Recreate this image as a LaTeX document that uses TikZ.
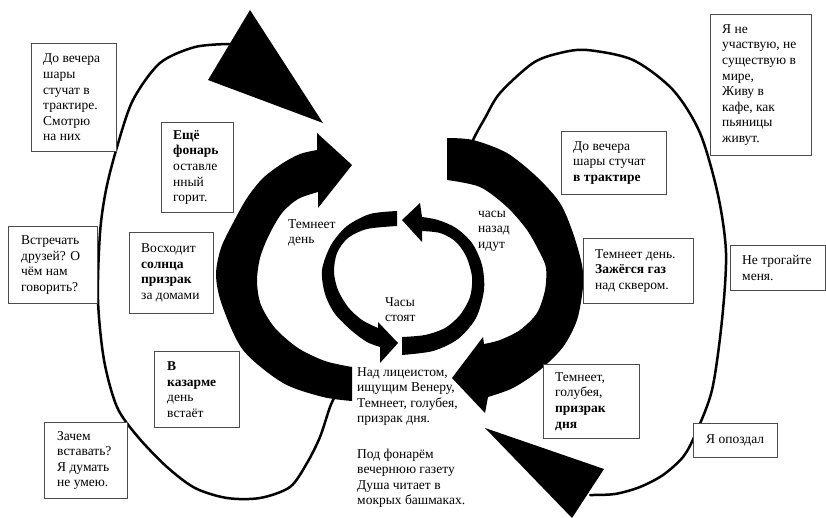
\documentclass[tikz,border=0pt]{standalone}
\usepackage{fontspec}
\setmainfont{Liberation Serif}
\begin{document}
\begin{tikzpicture}[x=1pt,y=-1pt,
  box/.style={draw=black!70, line width=0.9pt, fill=white, inner sep=0pt, anchor=north west},
  txt/.style={align=left, inner sep=0pt, anchor=west, font=\fontsize{13.5}{15.6}\selectfont},
  thincurve/.style={line width=2.5pt, line cap=round},
  band/.style={fill=black}]
\useasboundingbox (0,0) rectangle (826,518);

% thin open ellipses
\draw[thincurve] plot[smooth] coordinates {(337,392) (330,407) (320,437) (307,463) (290,487) (260,498) (227,498) (195,488) (167,467) (138,437) (117,407) (104,360) (98,300) (100,233) (106,190) (117,147) (133,100) (160,63) (195,47) (229,44)};
\draw[thincurve] plot[smooth] coordinates {(466,158) (474,138) (485,118) (500,93) (533,63) (560,53) (587,50) (633,60) (673,90) (700,133) (718,195) (726,253) (722,320) (712,390) (695,435) (683,457) (663,475) (640,487) (615,494) (590,495)};

% big triangular heads
\fill (208,80) -- (250,10) -- (323,123) -- cycle;
\fill (485,428) -- (604,469) -- (572,518) -- cycle;

% free texts
\node[txt] (t7) at (288,233) {Темнеет\\день};
\node[txt] (t8) at (478,231) {часы\\назад\\идут};
\node[txt] (t9) at (385,309.5) {Часы\\стоят};
\node[txt] (t16) at (357,437.5) {Над лицеистом,\\ищущим Венеру,\\Темнеет, голубея,\\призрак дня.\\[19.6pt]Под фонарём\\вечернюю газету\\Душа читает в\\мокрых башмаках.};

% big left band
\fill[band] plot[smooth] coordinates {(352,401) (323,397) (283,383) (243,350) (222,305) (216,275) (221,248) (233,223) (247,198) (263,178) (283,163) (300,154) (317,150)}
  -- (317,133) -- (352,165) -- (318,208) -- (318,192)
  -- plot[smooth] coordinates {(318,192) (298,199) (282,213) (269,235) (260,258) (257,282) (261,305) (275,328) (298,348) (325,361) (352,367)} -- cycle;

% big right band
\fill[band] plot[smooth] coordinates {(447,138) (473,140) (507,153) (537,177) (560,203) (573,233) (582,265) (583,287) (577,320) (563,347) (540,370) (513,388) (488,397)}
  -- (485,413) -- (452,378) -- (483,337) -- (484,344)
  -- plot[smooth] coordinates {(484,344) (500,340) (520,330) (537,313) (545,290) (546,268) (540,253) (527,230) (507,207) (480,187) (447,180)} -- cycle;

% small left band
\fill[band] plot[smooth] coordinates {(397,211) (370,214) (347,226) (331,245) (322,270) (325,294) (335,314) (352,331) (367,342) (380,347)}
  -- (380,363) -- (398,343) -- (378,322) -- (378,328)
  -- plot[smooth] coordinates {(378,328) (362,320) (348,307) (338,290) (334,272) (337,253) (348,238) (367,229) (397,226)} -- cycle;

% small right band
\fill[band] plot[smooth] coordinates {(402,355) (433,351) (458,339) (476,318) (484,290) (482,265) (472,243) (456,228) (438,220) (422,217)}
  -- (420,203) -- (402,220) -- (422,242) -- (422,231)
  -- plot[smooth] coordinates {(422,231) (440,233) (455,241) (466,256) (472,277) (470,297) (460,315) (445,328) (425,335) (402,337)} -- cycle;

% boxes
\node[box, minimum width=85pt, minimum height=108pt] (b1) at (31,43) {};
\node[txt] (bt1) at ([xshift=12pt]b1.west) {До вечера\\шары\\стучат в\\трактире.\\Смотрю\\на них};

\node[box, minimum width=72pt, minimum height=90pt] (b2) at (161,122) {};
\node[txt] (bt2) at ([xshift=12pt]b2.west) {\textbf{Ещё}\\\textbf{фонарь}\\оставле\\нный\\горит.};

\node[box, minimum width=89pt, minimum height=77pt] (b3) at (8,226) {};
\node[txt] (bt3) at ([xshift=13pt]b3.west) {Встречать\\друзей? О\\чём нам\\говорить?};

\node[box, minimum width=84pt, minimum height=81pt] (b4) at (129,232) {};
\node[txt] (bt4) at ([xshift=12pt]b4.west) {Восходит\\\textbf{солнца}\\\textbf{призрак}\\за домами};

\node[box, minimum width=85pt, minimum height=76pt] (b5) at (154,351) {};
\node[txt] (bt5) at ([xshift=13pt]b5.west) {\textbf{В}\\\textbf{казарме}\\день\\встаёт};

\node[box, minimum width=83pt, minimum height=76pt] (b6) at (44,422) {};
\node[txt] (bt6) at ([xshift=13pt]b6.west) {Зачем\\вставать?\\Я думать\\не умею.};

\node[box, minimum width=105pt, minimum height=63pt] (b10) at (561,131) {};
\node[txt] (bt10) at ([xshift=12pt]b10.west) {До вечера\\шары стучат\\\textbf{в трактире}};

\node[box, minimum width=101pt, minimum height=141pt] (b11) at (710,14) {};
\node[txt] (bt11) at ([xshift=12pt]b11.west) {Я не\\участвую, не\\существую в\\мире,\\Живу в\\кафе, как\\пьяницы\\живут.};

\node[box, minimum width=110pt, minimum height=65pt] (b12) at (583,238) {};
\node[txt] (bt12) at ([xshift=12pt]b12.west) {Темнеет день.\\\textbf{Зажёгся газ}\\над сквером.};

\node[box, minimum width=95pt, minimum height=45pt] (b13) at (730,245) {};
\node[txt] (bt13) at ([xshift=12pt]b13.west) {Не трогайте\\меня.};

\node[box, minimum width=96pt, minimum height=74pt] (b14) at (543,364) {};
\node[txt] (bt14) at ([xshift=12pt]b14.west) {Темнеет,\\голубея,\\\textbf{призрак}\\\textbf{дня}};

\node[box, minimum width=84pt, minimum height=34pt] (b15) at (693,423) {};
\node[txt] (bt15) at ([xshift=13pt]b15.west) {Я опоздал};
\end{tikzpicture}
\end{document}
